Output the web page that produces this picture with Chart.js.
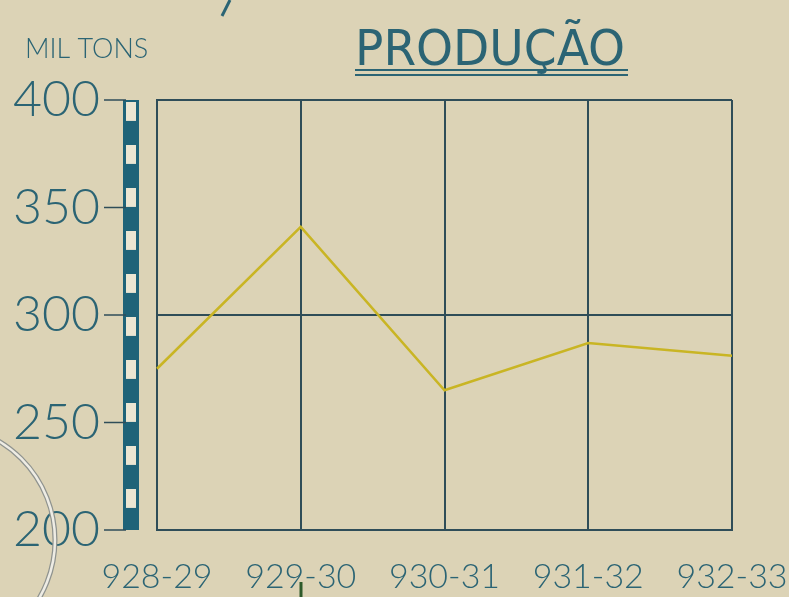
<!DOCTYPE html>
<html>
<head>
<meta charset="utf-8">
<script src="https://cdn.jsdelivr.net/npm/chart.js@4"></script>
<style>
  html, body { margin: 0; padding: 0; background: #dcd3b6; }
  #wrap { width: 789px; height: 597px; }
</style>
</head>
<body>
<div id="wrap"><canvas id="chart" width="789" height="597"></canvas></div>
<script>
const seasons = ["928-29", "929-30", "930-31", "931-32", "932-33"]
const production = [275, 341, 265, 287, 281]
const yTicks = [200, 250, 300, 350, 400]
const titleText = "PRODUÇÃO"
const unitText = "MIL TONS"

const ink = "#2b6474"
const gridInk = "#2f4d58"

// hand drawn bits: title, unit, striped axis bar, stray marks
const paperPlugin = {
  id: "paper",
  beforeDraw(chart) {
    const ctx = chart.ctx
    ctx.save()
    ctx.fillStyle = "#dcd3b6"
    ctx.fillRect(0, 0, chart.width, chart.height)
    ctx.restore()
  },
  afterDraw(chart) {
    const ctx = chart.ctx
    const y = chart.scales.y
    ctx.save()

    //Title
    ctx.fillStyle = ink
    ctx.font = "normal 50px 'Liberation Sans Narrow', 'DejaVu Sans Condensed', sans-serif"
    ctx.textBaseline = "alphabetic"
    const w = ctx.measureText(titleText).width
    ctx.save()
    ctx.translate(355, 65)
    ctx.scale(270 / w, 1)
    ctx.fillText(titleText, 0, 0)
    ctx.restore()
    ctx.strokeStyle = ink
    ctx.lineWidth = 2
    ctx.beginPath()
    ctx.moveTo(355, 70); ctx.lineTo(628, 70)
    ctx.moveTo(355, 75); ctx.lineTo(628, 75)
    ctx.stroke()

    ctx.font = "300 27px Lato, sans-serif"
    ctx.fillText(unitText, 25, 58)

    //Striped bar next to the y axis
    const barX = 123, barW = 16
    const top = y.getPixelForValue(400), bottom = y.getPixelForValue(200)
    ctx.fillStyle = "#1f6378"
    ctx.fillRect(barX, top, barW, bottom - top)
    const period = (bottom - top) / 10
    ctx.fillStyle = "#ece6d2"
    for (let i = 0; i < 10; i++) {
      const sy = top + i * period + 2
      ctx.fillRect(barX + 3, sy, barW - 6, period * 0.44)
    }
    ctx.strokeStyle = gridInk
    ctx.lineWidth = 1.5
    yTicks.forEach(v => {
      const py = y.getPixelForValue(v)
      ctx.beginPath()
      ctx.moveTo(104, py); ctx.lineTo(barX + 3, py)
      ctx.stroke()
    })

    //Stray circle from the neighbouring drawing
    ctx.beginPath()
    ctx.arc(-60, 540, 115, -Math.PI / 2, Math.PI / 2)
    ctx.strokeStyle = "#8f938f"
    ctx.lineWidth = 5
    ctx.stroke()
    ctx.strokeStyle = "#eeece4"
    ctx.lineWidth = 2.5
    ctx.stroke()

    //Stray pen marks
    ctx.strokeStyle = ink
    ctx.lineWidth = 3
    ctx.beginPath()
    ctx.moveTo(230, 0); ctx.lineTo(222, 16)
    ctx.stroke()
    ctx.strokeStyle = "#2e5a2a"
    ctx.beginPath()
    ctx.moveTo(301, 582); ctx.lineTo(301, 597)
    ctx.stroke()

    ctx.restore()
  }
}

new Chart(document.getElementById("chart"), {
  type: "line",
  data: {
    labels: seasons,
    datasets: [{
      data: production,
      borderColor: "#c9b524",
      borderWidth: 2.5,
      pointRadius: 0,
      tension: 0,
      fill: false
    }]
  },
  options: {
    responsive: false,
    animation: false,
    layout: { padding: { top: 100, right: 57, left: 0, bottom: 0 } },
    plugins: { legend: { display: false }, tooltip: { enabled: false } },
    scales: {
      x: {
        offset: false,
        grid: { color: gridInk, lineWidth: 2, drawTicks: true, tickLength: 27, tickColor: "rgba(0,0,0,0)" },
        border: { color: gridInk, width: 2 },
        ticks: { color: ink, padding: 0, maxRotation: 0, font: { family: "Lato, sans-serif", size: 34, weight: "300" } },
        afterFit(scale) { scale.height = 67 }
      },
      y: {
        min: 200,
        max: 400,
        afterBuildTicks(scale) { scale.ticks = yTicks.map(v => ({ value: v })) },
        grid: {
          color: ctx => (ctx.tick && ctx.tick.value % 100 === 0) ? gridInk : "rgba(0,0,0,0)",
          lineWidth: 2,
          drawTicks: true,
          tickLength: 55,
          tickColor: "rgba(0,0,0,0)"
        },
        border: { color: gridInk, width: 2 },
        ticks: { color: ink, padding: 2, font: { family: "Lato, sans-serif", size: 50, weight: "300" } },
        afterFit(scale) { scale.width = 157 }
      }
    }
  },
  plugins: [paperPlugin]
})
</script>
</body>
</html>
